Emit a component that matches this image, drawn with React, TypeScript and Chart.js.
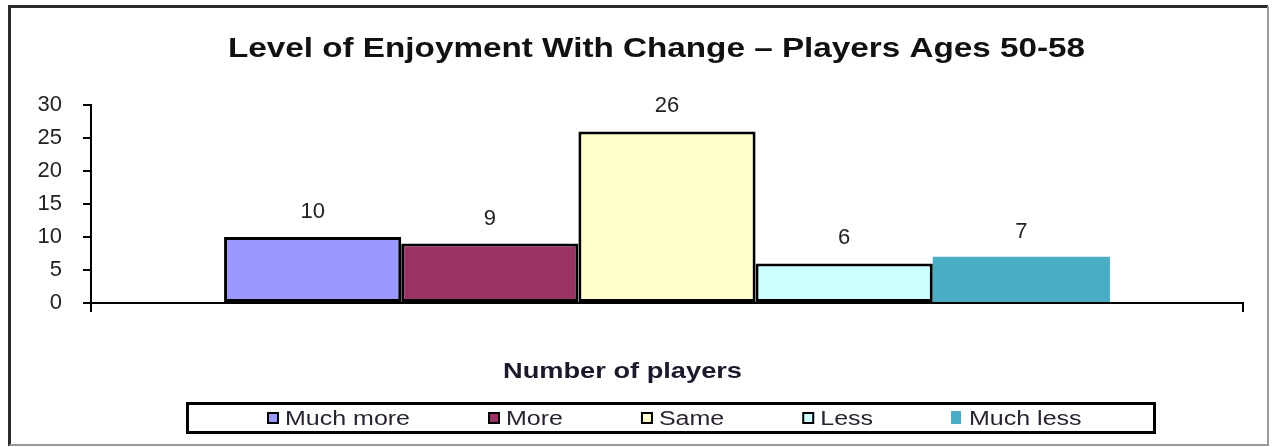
import React, { useEffect, useRef } from 'react';
import { Chart, registerables } from 'chart.js';

Chart.register(...registerables);

const categories = [''];
const seriesLabels = ['Much more', 'More', 'Same', 'Less', 'Much less'];
const seriesValues = [10, 9, 26, 6, 7];
const seriesColors = ['#9999FF', '#993366', '#FFFFCC', '#CCFFFF', '#4BACC6'];
const seriesBorderWidths = [3, 3, 3, 3, 0];
const yMin = 0;
const yMax = 30;
const yStep = 5;
const titleText = 'Level of Enjoyment With Change \u2013 Players Ages 50-58';
const xAxisTitle = 'Number of players';

const FONT = '"Liberation Sans", Arial, sans-serif';

// draw text left-aligned at x, horizontally scaled by factor s
function drawScaled(ctx: CanvasRenderingContext2D, text: string, x: number, y: number, s: number) {
  ctx.save();
  ctx.translate(x, y);
  ctx.scale(s, 1);
  ctx.textAlign = 'left';
  ctx.fillText(text, 0, 0);
  ctx.restore();
}

const decorPlugin = {
  id: 'decor',
  beforeDraw(chart: any) {
    const ctx: CanvasRenderingContext2D = chart.ctx;
    ctx.save();
    ctx.fillStyle = '#ffffff';
    ctx.fillRect(0, 0, chart.width, chart.height);
    ctx.strokeStyle = '#2a2a2a';
    ctx.lineWidth = 3;
    ctx.beginPath();
    ctx.moveTo(9.5, 446);
    ctx.lineTo(9.5, 6.5);
    ctx.lineTo(1268, 6.5);
    ctx.stroke();
    ctx.strokeStyle = '#9a9a9a';
    ctx.lineWidth = 2;
    ctx.beginPath();
    ctx.moveTo(1268, 6.5);
    ctx.lineTo(1268, 445);
    ctx.lineTo(9.5, 445);
    ctx.stroke();
    ctx.restore();
  },
  afterDraw(chart: any) {
    const ctx: CanvasRenderingContext2D = chart.ctx;
    ctx.save();
    ctx.textBaseline = 'middle';

    // title
    ctx.fillStyle = '#111111';
    ctx.font = `bold 27px ${FONT}`;
    let w = ctx.measureText(titleText).width;
    drawScaled(ctx, titleText, 228, 50, 857 / w);

    // x axis title
    ctx.font = `bold 22px ${FONT}`;
    ctx.fillStyle = '#1a1a2a';
    w = ctx.measureText(xAxisTitle).width;
    drawScaled(ctx, xAxisTitle, 503, 372, 239 / w);

    // value labels
    ctx.font = `22px ${FONT}`;
    ctx.fillStyle = '#222222';
    ctx.textAlign = 'center';
    chart.data.datasets.forEach((ds: any, i: number) => {
      const meta = chart.getDatasetMeta(i);
      meta.data.forEach((bar: any, j: number) => {
        ctx.fillText(String(ds.data[j]), bar.x, bar.y - 25);
      });
    });

    // legend
    ctx.strokeStyle = '#000000';
    ctx.lineWidth = 3;
    ctx.strokeRect(187.5, 403.5, 967, 29);
    ctx.font = `20px ${FONT}`;
    const s = 125 / ctx.measureText(seriesLabels[0]).width;
    let x = 268;
    const cy = 418;
    chart.data.datasets.forEach((ds: any) => {
      ctx.fillStyle = ds.backgroundColor;
      if (ds.borderWidth > 0) {
        ctx.fillRect(x, cy - 5, 10, 10);
        ctx.lineWidth = 2;
        ctx.strokeStyle = '#000';
        ctx.strokeRect(x, cy - 5, 10, 10);
      } else {
        ctx.fillRect(x - 1, cy - 7, 10, 13);
      }
      ctx.fillStyle = '#2a2230';
      drawScaled(ctx, ds.label, x + 17, cy + 1, s);
      const tw = ctx.measureText(ds.label).width * s;
      x = x + 17 + tw + 79;
    });
    ctx.restore();
  },
};

export default function App() {
  const ref = useRef<HTMLCanvasElement | null>(null);
  useEffect(() => {
    if (!ref.current) return;
    const chart = new Chart(ref.current, {
      type: 'bar',
      data: {
        labels: categories,
        datasets: seriesLabels.map((label, i) => ({
          label,
          data: [seriesValues[i]],
          backgroundColor: seriesColors[i],
          borderColor: '#000000',
          borderWidth: seriesBorderWidths[i],
          borderSkipped: false,
          categoryPercentage: 0.769,
          barPercentage: 1.0,
        })),
      },
      options: {
        responsive: false,
        animation: false,
        layout: { padding: { left: 0, right: 29, top: 105, bottom: 0 } },
        plugins: {
          legend: { display: false },
          title: { display: false },
          tooltip: { enabled: false },
        },
        scales: {
          x: {
            offset: true,
            grid: {
              offset: true,
              drawOnChartArea: false,
              drawTicks: true,
              tickLength: 9,
              color: '#000000',
              lineWidth: 2,
            },
            border: { display: true, color: '#000000', width: 2 },
            ticks: { display: false },
            afterFit: (scale: any) => {
              scale.height = 144;
            },
          },
          y: {
            min: yMin,
            max: yMax,
            grid: {
              drawOnChartArea: false,
              drawTicks: true,
              tickLength: 8,
              color: '#000000',
              lineWidth: 2,
            },
            border: { display: true, color: '#000000', width: 2 },
            ticks: {
              stepSize: yStep,
              padding: 21,
              color: '#222222',
              font: { family: FONT, size: 22 },
            },
            afterFit: (scale: any) => {
              scale.width = 91;
            },
          },
        },
      },
      plugins: [decorPlugin],
    } as any);
    return () => chart.destroy();
  }, []);
  return (
    <div style={{ position: 'fixed', left: 0, top: 0, width: 1272, height: 447, background: '#fff' }}>
      <canvas ref={ref} width={1272} height={447} style={{ display: 'block' }} />
    </div>
  );
}
